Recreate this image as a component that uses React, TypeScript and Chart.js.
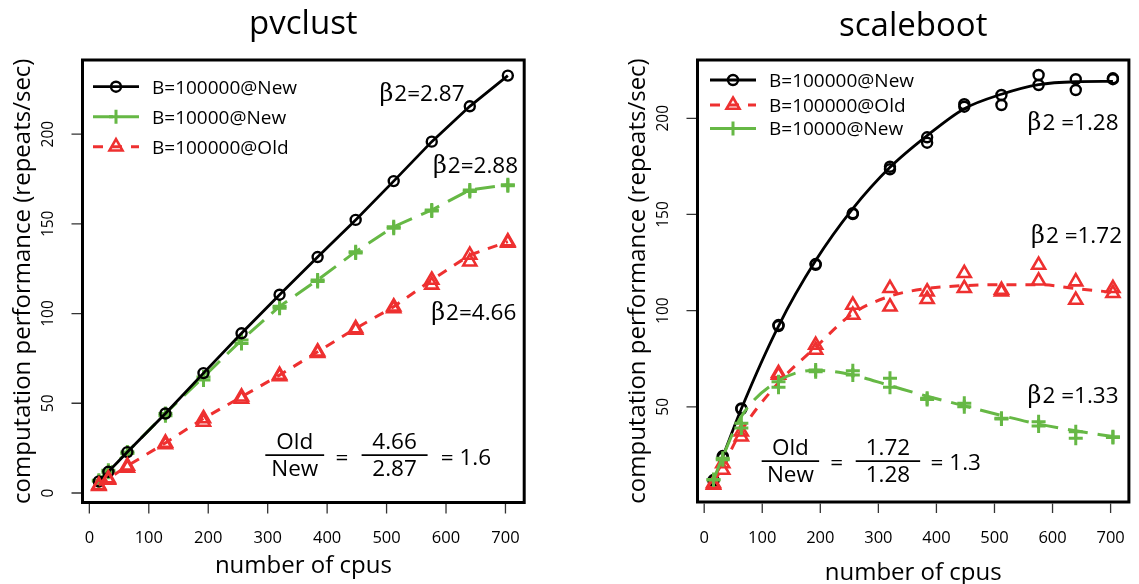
import React, { useEffect, useRef } from "react";
import { Chart, registerables } from "chart.js";

Chart.register(...registerables);

const SANS = '"Open Sans", "Noto Sans", "DejaVu Sans", sans-serif';
const SERIF = '"DejaVu Serif", "Liberation Serif", serif';

const BLACK = "#000000";
const GREEN = "#66B845";
const RED = "#EE3030";

// ---------------- data ----------------
const cpus = [16, 32, 64, 128, 192, 256, 320, 384, 448, 512, 576, 640, 704];
const xTickValues = [0, 100, 200, 300, 400, 500, 600, 700];
const pvYTicks = [0, 50, 100, 150, 200];
const sbYTicks = [50, 100, 150, 200];

// pvclust (left panel)
const pvNew100k = [6.5, 11.8, 22.8, 44.3, 66.8, 89.0, 110.5, 131.5, 152.2, 173.8, 195.8, 215.5, 232.6];
const pvNew10k = [7.1, 12.7, 22.9, 44.3, 64.7, 85.2, 104.0, 118.7, 134.5, 148.4, 157.7, 168.9, 171.8];
const pvNew10kRep = [6.5, 11.5, 22.0, 43.0, 62.9, 83.3, 103.0, 117.8, 133.8, 147.5, 157.2, 168.0, 171.2];
const pvOld100k = [4.3, 8.0, 15.1, 27.9, 41.5, 53.6, 65.7, 78.7, 91.7, 103.8, 118.7, 132.6, 140.1];
const pvOld100kRep = [3.8, 7.2, 14.0, 27.0, 39.6, 52.4, 65.0, 77.9, 90.8, 102.8, 116.0, 128.9, 139.4];

// scaleboot (right panel): two replicates + fitted curve
const sbNew100kA = [11.9, 24.4, 49.2, 92.5, 124.2, 150.6, 174.8, 190.1, 207.3, 212.1, 222.5, 220.3, 220.8];
const sbNew100kB = [11.5, 23.5, 48.8, 92.0, 123.8, 150.2, 173.5, 187.3, 206.0, 206.9, 217.3, 214.7, 220.3];
const sbNew100kFit = [11.0, 24.0, 49.0, 92.0, 126.0, 153.0, 174.5, 191.0, 205.0, 212.5, 217.5, 219.0, 219.2];
const sbOld100kA = [10.1, 20.5, 37.0, 67.4, 82.1, 102.9, 111.6, 109.8, 119.4, 110.7, 123.7, 115.1, 111.6];
const sbOld100kB = [9.3, 17.1, 34.4, 66.5, 79.5, 97.7, 102.0, 105.9, 111.6, 109.8, 115.5, 105.5, 109.0];
const sbOld100kFit = [10.5, 19.0, 37.5, 62.5, 81.0, 98.5, 107.5, 111.5, 113.0, 113.5, 113.5, 111.5, 109.5];
const sbNew10kA = [12.2, 23.2, 41.4, 63.0, 69.1, 68.7, 64.8, 54.4, 51.8, 44.0, 42.2, 37.0, 34.4];
const sbNew10kB = [12.0, 22.5, 39.0, 60.1, 68.2, 66.5, 60.1, 53.8, 50.0, 43.6, 40.0, 33.6, 34.0];
const sbNew10kFit = [12.0, 24.0, 45.0, 63.5, 69.0, 66.5, 61.0, 55.5, 50.5, 45.5, 41.0, 37.5, 34.5];

// ---------------- styling ----------------
type Marker = "circle" | "triangle" | "cross";
interface Series {
  label: string;
  color: string;
  dash: number[];
  lineWidth: number;
  marker: Marker;
  fit: number[];
  reps: number[][];
}

const markerStyle: Record<Marker, { radius: number; width: number }> = {
  circle: { radius: 5, width: 2.4 },
  triangle: { radius: 7.5, width: 2.6 },
  cross: { radius: 7, width: 3 },
};

interface Panel {
  title: string;
  titleBaseline: number;
  left: number;
  width: number;
  padding: { left: number; right: number; top: number; bottom: number };
  xMin: number;
  xMax: number;
  yMin: number;
  yMax: number;
  yTicks: number[];
  smooth: boolean;
  series: Series[];
  drawOrder: number[];
  yTitleBaseline: number;
  yTickBaseline: number;
  xTickBaseline: number;
  xTitleBaseline: number;
  legend: { x1: number; x2: number; textX: number; rows: number[] };
  betas: { text: string; x: number; y: number }[];
  ratio: {
    num1: string; den1: string; line1: [number, number]; eqX: number;
    num2: string; den2: string; line2: [number, number];
    result: string; resX: number;
    yNum: number; yLine: number; yDen: number; yEq: number;
  };
}

const pvPanel: Panel = {
  title: "pvclust",
  titleBaseline: 33.5,
  left: 0,
  width: 570,
  padding: { left: 82.5, right: 45.8, top: 60, bottom: 81.5 },
  xMin: -11.52,
  xMax: 731.52,
  yMin: -5.3,
  yMax: 241.3,
  yTicks: pvYTicks,
  smooth: false,
  series: [
    { label: "B=100000@New", color: BLACK, dash: [], lineWidth: 2.8, marker: "circle", fit: pvNew100k, reps: [pvNew100k] },
    { label: "B=10000@New", color: GREEN, dash: [20, 10], lineWidth: 3, marker: "cross", fit: pvNew10k, reps: [pvNew10k, pvNew10kRep] },
    { label: "B=100000@Old", color: RED, dash: [10, 9], lineWidth: 3, marker: "triangle", fit: pvOld100k, reps: [pvOld100k, pvOld100kRep] },
  ],
  drawOrder: [2, 0, 1],
  yTitleBaseline: 30,
  yTickBaseline: 53.3,
  xTickBaseline: 543,
  xTitleBaseline: 573,
  legend: { x1: 93, x2: 139, textX: 152, rows: [86.7, 116.7, 146.7] },
  betas: [
    { text: "2=2.87", x: 488, y: 223 },
    { text: "2=2.88", x: 578, y: 183 },
    { text: "2=4.66", x: 575, y: 100.8 },
  ],
  ratio: {
    num1: "Old", den1: "New", line1: [296, 395], eqX: 425,
    num2: "4.66", den2: "2.87", line2: [458, 569],
    result: "= 1.6", resX: 591,
    yNum: 29.3, yLine: 21.1, yDen: 13.8, yEq: 20.3,
  },
};

const sbPanel: Panel = {
  title: "scaleboot",
  titleBaseline: 36,
  left: 569,
  width: 570,
  padding: { left: 128.5, right: 0, top: 60, bottom: 82 },
  xMin: -11.52,
  xMax: 731.52,
  yMin: 0.5,
  yMax: 230.3,
  yTicks: sbYTicks,
  smooth: true,
  series: [
    { label: "B=100000@New", color: BLACK, dash: [], lineWidth: 2.8, marker: "circle", fit: sbNew100kFit, reps: [sbNew100kA, sbNew100kB] },
    { label: "B=100000@Old", color: RED, dash: [10, 9], lineWidth: 3, marker: "triangle", fit: sbOld100kFit, reps: [sbOld100kA, sbOld100kB] },
    { label: "B=10000@New", color: GREEN, dash: [20, 10], lineWidth: 3, marker: "cross", fit: sbNew10kFit, reps: [sbNew10kA, sbNew10kB] },
  ],
  drawOrder: [2, 1, 0],
  yTitleBaseline: 645 - 569,
  yTickBaseline: 668.3 - 569,
  xTickBaseline: 543,
  xTitleBaseline: 580,
  legend: { x1: 710 - 569, x2: 756 - 569, textX: 769 - 569, rows: [80, 105, 128.5] },
  betas: [
    { text: "2 =1.28", x: 557, y: 198.2 },
    { text: "2 =1.72", x: 563, y: 139.3 },
    { text: "2 =1.33", x: 557, y: 56.1 },
  ],
  ratio: {
    num1: "Old", den1: "New", line1: [99, 198], eqX: 228,
    num2: "1.72", den2: "1.28", line2: [261, 372],
    result: "= 1.3", resX: 390,
    yNum: 29.2, yLine: 21.7, yDen: 15.3, yEq: 21.5,
  },
};

// ---------------- drawing helpers ----------------
function textAt(ctx: CanvasRenderingContext2D, s: string, x: number, yCenter: number, size: number, align: CanvasTextAlign = "center") {
  ctx.font = `${size}px ${SANS}`;
  ctx.textAlign = align;
  ctx.textBaseline = "alphabetic";
  ctx.fillText(s, x, yCenter + 0.36 * size);
}

function rotText(ctx: CanvasRenderingContext2D, s: string, xBaseline: number, yCenter: number) {
  ctx.save();
  ctx.translate(xBaseline, yCenter);
  ctx.rotate(-Math.PI / 2);
  ctx.textAlign = "center";
  ctx.textBaseline = "alphabetic";
  ctx.fillText(s, 0, 0);
  ctx.restore();
}

function drawMarker(ctx: CanvasRenderingContext2D, m: Marker, x: number, y: number, color: string) {
  const s = markerStyle[m];
  const r = s.radius;
  ctx.save();
  ctx.setLineDash([]);
  ctx.strokeStyle = color;
  ctx.lineWidth = s.width;
  ctx.beginPath();
  if (m === "circle") {
    ctx.arc(x, y, r, 0, Math.PI * 2);
  } else if (m === "triangle") {
    const k = Math.sin((2 * Math.PI) / 3) * r;
    ctx.moveTo(x, y - r);
    ctx.lineTo(x + k, y + r * 0.5);
    ctx.lineTo(x - k, y + r * 0.5);
    ctx.closePath();
  } else {
    ctx.moveTo(x - r, y);
    ctx.lineTo(x + r, y);
    ctx.moveTo(x, y - r);
    ctx.lineTo(x, y + r);
  }
  ctx.stroke();
  ctx.restore();
}

function decorPlugin(p: Panel) {
  return {
    id: "decor",
    afterDraw(chart: any) {
      const ctx: CanvasRenderingContext2D = chart.ctx;
      const a = chart.chartArea;
      const xs = chart.scales.x;
      const ys = chart.scales.y;
      const X = (v: number) => xs.getPixelForValue(v);
      const Y = (v: number) => ys.getPixelForValue(v);
      ctx.save();
      ctx.fillStyle = "#000";
      ctx.setLineDash([]);

      // box
      ctx.strokeStyle = "#000";
      ctx.lineWidth = 3;
      ctx.strokeRect(a.left, a.top, a.right - a.left, a.bottom - a.top);

      // tick marks
      ctx.strokeStyle = "#333";
      ctx.lineWidth = 1.3;
      ctx.beginPath();
      xTickValues.forEach((v) => {
        const x = X(v);
        ctx.moveTo(x, a.bottom + 1.5);
        ctx.lineTo(x, a.bottom + 11);
      });
      p.yTicks.forEach((v) => {
        const y = Y(v);
        ctx.moveTo(a.left - 1.5, y);
        ctx.lineTo(a.left - 11, y);
      });
      ctx.stroke();

      // tick labels
      ctx.fillStyle = "#000";
      ctx.font = `16.5px ${SANS}`;
      ctx.textAlign = "center";
      ctx.textBaseline = "alphabetic";
      xTickValues.forEach((v) => ctx.fillText(String(v), X(v), p.xTickBaseline));
      ctx.font = `15.5px ${SANS}`;
      p.yTicks.forEach((v) => rotText(ctx, String(v), p.yTickBaseline, Y(v)));

      // axis titles
      ctx.font = `24px ${SANS}`;
      ctx.textAlign = "center";
      ctx.fillText("number of cpus", (a.left + a.right) / 2, p.xTitleBaseline);
      rotText(ctx, "computation performance (repeats/sec)", p.yTitleBaseline, (a.top + a.bottom) / 2);

      // main title
      ctx.font = `33px ${SANS}`;
      ctx.textAlign = "center";
      ctx.fillText(p.title, (a.left + a.right) / 2, p.titleBaseline);

      // legend
      const lg = p.legend;
      p.series.forEach((s, i) => {
        const y = lg.rows[i];
        ctx.save();
        ctx.strokeStyle = s.color;
        ctx.lineWidth = s.lineWidth;
        ctx.setLineDash(s.dash);
        ctx.beginPath();
        ctx.moveTo(lg.x1, y);
        ctx.lineTo(lg.x2, y);
        ctx.stroke();
        ctx.restore();
        drawMarker(ctx, s.marker, (lg.x1 + lg.x2) / 2, y, s.color);
        ctx.fillStyle = "#000";
        textAt(ctx, s.label, lg.textX, y, 19, "left");
      });

      // beta annotations
      p.betas.forEach((b) => {
        const x = X(b.x);
        const yc = Y(b.y);
        const base = yc + 0.36 * 22.5;
        ctx.fillStyle = "#000";
        ctx.textAlign = "left";
        ctx.textBaseline = "alphabetic";
        ctx.font = `24px ${SERIF}`;
        ctx.fillText("\u03b2", x, base);
        const w = ctx.measureText("\u03b2").width;
        ctx.font = `22.5px ${SANS}`;
        ctx.fillText(b.text, x + w + 1, base);
      });

      // ratio
      const r = p.ratio;
      const fs = 22.5;
      const frac = (num: string, den: string, l: [number, number]) => {
        const x1 = X(l[0]);
        const x2 = X(l[1]);
        const cx = (x1 + x2) / 2;
        textAt(ctx, num, cx, Y(r.yNum), fs);
        textAt(ctx, den, cx, Y(r.yDen), fs);
        ctx.strokeStyle = "#000";
        ctx.lineWidth = 1.7;
        ctx.beginPath();
        ctx.moveTo(x1, Y(r.yLine));
        ctx.lineTo(x2, Y(r.yLine));
        ctx.stroke();
      };
      frac(r.num1, r.den1, r.line1);
      textAt(ctx, "=", X(r.eqX), Y(r.yEq), fs);
      frac(r.num2, r.den2, r.line2);
      textAt(ctx, r.result, X(r.resX), Y(r.yEq), fs, "left");

      ctx.restore();
    },
  };
}

function buildDatasets(p: Panel) {
  const ds: any[] = [];
  p.drawOrder.forEach((idx) => {
    const s = p.series[idx];
    const ms = markerStyle[s.marker];
    ds.push({
      label: s.label + " fit",
      data: cpus.map((c, i) => ({ x: c, y: s.fit[i] })),
      borderColor: s.color,
      borderWidth: s.lineWidth,
      borderDash: s.dash,
      pointRadius: 0,
      fill: false,
      tension: 0,
      cubicInterpolationMode: p.smooth ? "monotone" : "default",
    });
    s.reps.forEach((rep, k) => {
      ds.push({
        label: s.label + " rep" + k,
        data: cpus.map((c, i) => ({ x: c, y: rep[i] })),
        showLine: false,
        borderColor: s.color,
        backgroundColor: "rgba(0,0,0,0)",
        pointStyle: s.marker,
        pointRadius: ms.radius,
        pointBorderWidth: ms.width,
        pointBorderColor: s.color,
        pointBackgroundColor: "rgba(0,0,0,0)",
        pointHoverRadius: ms.radius,
      });
    });
  });
  return ds;
}

function PanelChart({ panel }: { panel: Panel }) {
  const ref = useRef<HTMLCanvasElement | null>(null);
  useEffect(() => {
    if (!ref.current) return;
    const chart = new Chart(ref.current, {
      type: "line",
      data: { datasets: buildDatasets(panel) },
      options: {
        animation: false,
        responsive: false,
        devicePixelRatio: 1,
        events: [],
        layout: { padding: panel.padding },
        plugins: {
          legend: { display: false },
          tooltip: { enabled: false },
          title: { display: false },
        },
        scales: {
          x: { type: "linear", min: panel.xMin, max: panel.xMax, display: false },
          y: { type: "linear", min: panel.yMin, max: panel.yMax, display: false },
        },
      } as any,
      plugins: [decorPlugin(panel)],
    });
    return () => chart.destroy();
  }, [panel]);
  return (
    <canvas
      ref={ref}
      width={panel.width}
      height={584}
      style={{ position: "absolute", left: panel.left, top: 0, width: panel.width, height: 584 }}
    />
  );
}

export default function App() {
  return (
    <div style={{ position: "absolute", left: 0, top: 0, width: 1139, height: 584, background: "#fff", overflow: "hidden" }}>
      <PanelChart panel={pvPanel} />
      <PanelChart panel={sbPanel} />
    </div>
  );
}
